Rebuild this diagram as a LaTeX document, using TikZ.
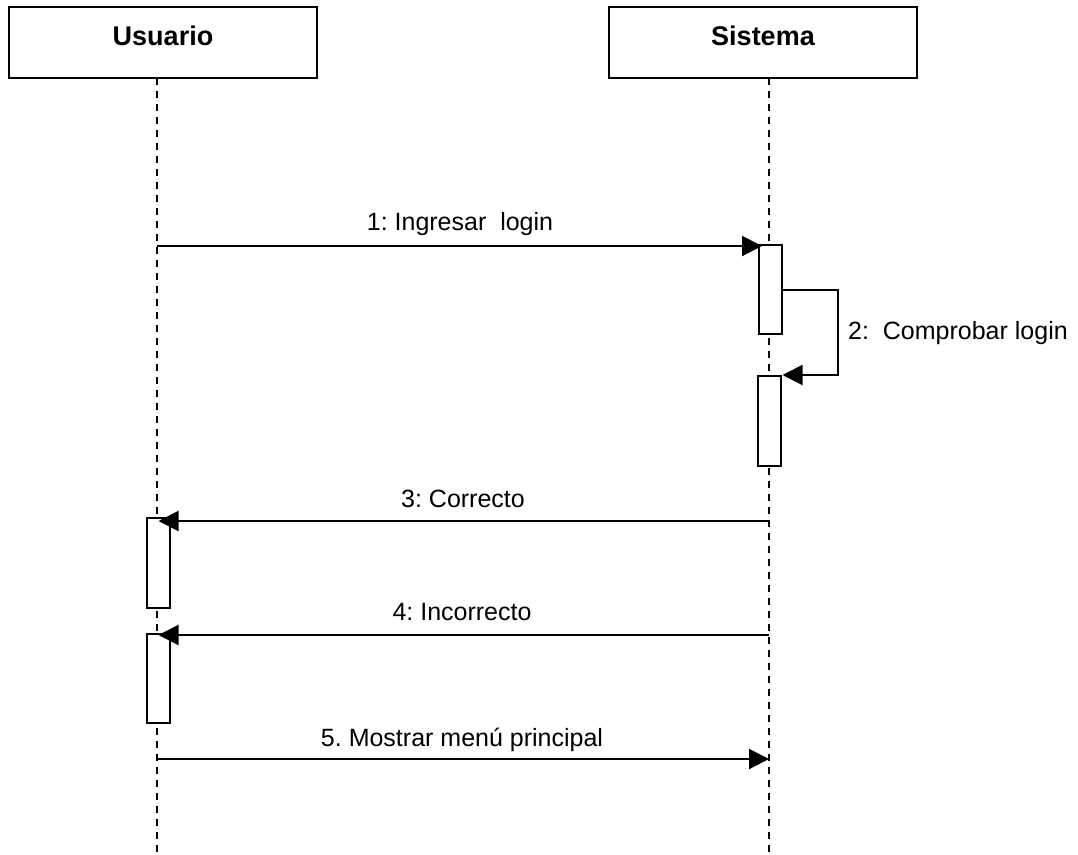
\documentclass[tikz,border=0pt]{standalone}
\usepackage{fontspec}
\setmainfont{Liberation Sans}
\usetikzlibrary{arrows.meta}
\frenchspacing
\begin{document}
\begin{tikzpicture}[x=1pt,y=-1pt,
  header/.style={draw, line width=2pt, minimum width=308pt, minimum height=71pt, inner sep=0pt, fill=white},
  lifeline/.style={line width=1.5pt, dash pattern=on 7pt off 6pt},
  actbox/.style={draw, line width=2pt, fill=white, minimum width=23pt, inner sep=0pt},
  msg/.style={line width=2pt, -{Triangle[length=20pt,width=20pt]}},
  lbl/.style={font=\fontsize{25}{30}\selectfont, inner sep=0pt},
  title/.style={font=\fontsize{27}{32}\selectfont\bfseries, inner sep=0pt}]
\useasboundingbox (0,0) rectangle (1078,854);

% participants
\node[header] (usuario) at (163,42.5) {};
\node[title] (usuarioName) at (163,36) {Usuario};
\node[header] (sistema) at (763,42.5) {};
\node[title] (sistemaName) at (763,36) {Sistema};

% lifelines
\coordinate (uTop) at (157,78);
\coordinate (uBot) at (157,854);
\coordinate (sTop) at (769,78);
\coordinate (sBot) at (769,854);
\draw[lifeline] (uTop) -- (uBot);
\draw[lifeline] (sTop) -- (sBot);

% activation bars
\node[actbox, minimum height=89pt] (act1) at (770.5,289.5) {};
\node[actbox, minimum height=90pt] (act2) at (769,421) {};
\node[actbox, minimum height=90pt] (act3) at (158.5,563) {};
\node[actbox, minimum height=89pt] (act4) at (158.5,678.5) {};

% 1: login request
\coordinate (m1s) at (157,246);
\draw[msg] (m1s) -- ([xshift=4pt]m1s -| act1.west);
\node[lbl] (l1) at (460,224) {1: Ingresar\ \ login};

% 2: self call
\coordinate (s1) at (838,290);
\coordinate (s2) at (838,375);
\draw[msg] (act1.east |- s1) -- (s1) -- (s2) -- ([xshift=1pt]act2.east |- s2);
\node[lbl, anchor=west] (l2) at (848,333) {2:\ \ Comprobar login};

% 3: correct
\coordinate (m3s) at (769,521);
\draw[msg] (m3s) -- (act3 |- m3s);
\node[lbl] (l3) at (463,499) {3: Correcto};

% 4: incorrect
\coordinate (m4s) at (769,635);
\draw[msg] (m4s) -- (act4 |- m4s);
\node[lbl] (l4) at (462,612) {4: Incorrecto};

% 5: main menu
\coordinate (m5s) at (157,759);
\coordinate (m5e) at (769,759);
\draw[msg] (m5s) -- (m5e);
\node[lbl] (l5) at (462,740) {5. Mostrar menú principal};
\end{tikzpicture}
\end{document}
